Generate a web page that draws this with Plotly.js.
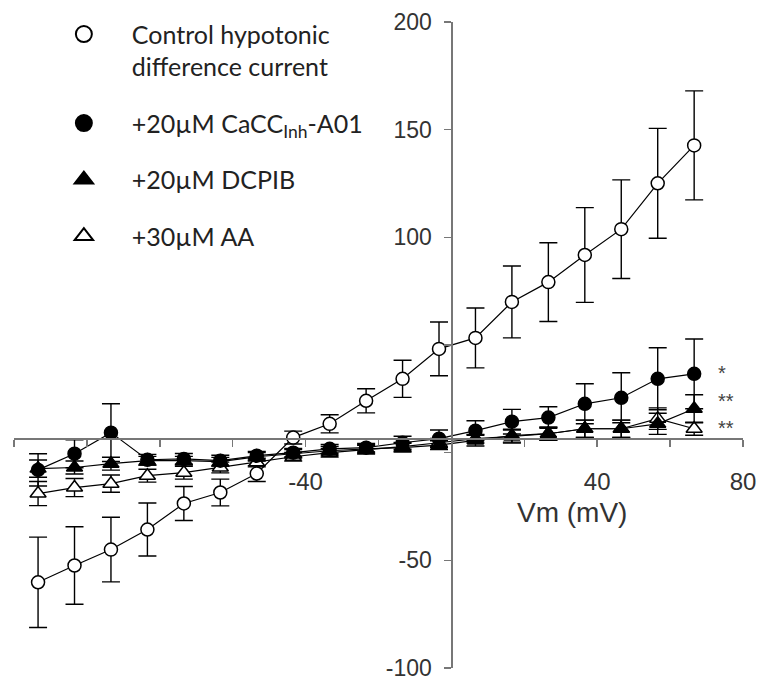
<!DOCTYPE html>
<html>
<head>
<meta charset="utf-8">
<script src="https://cdn.plot.ly/plotly-3.0.1.min.js"></script>
<style>html,body{margin:0;padding:0;background:#fff;}#chart{width:761px;height:687px;}</style>
</head>
<body>
<div id="chart"></div>
<script>
// Membrane potential (mV)
const vm = [-113.4, -103.4, -93.4, -83.4, -73.4, -63.4, -53.4, -43.4, -33.4, -23.4,
            -13.4, -3.4, 6.6, 16.6, 26.6, 36.6, 46.6, 56.6, 66.6];

// Control hypotonic difference current
const controlY   = [-60.2, -52.4, -45.0, -35.7, -23.6, -18.5, -9.7, 7.0, 13.4, 24.1,
                    34.3, 48.2, 53.3, 70.0, 79.2, 91.8, 103.8, 125.1, 142.7];
const controlErr = [21, 18, 15, 12.3, 7.9, 6.2, 3.7, 3, 4.2, 5.6,
                    8.6, 12.5, 13.9, 16.7, 18.3, 22, 22.9, 25.5, 25.3];

// +20µM CaCCinh-A01
const caccY   = [-8.0, -0.5, 9.3, -3.3, -2.9, -3.7, -1.4, 0.0, 1.8, 2.3,
                 4.6, 6.5, 10.2, 14.4, 16.3, 22.7, 25.5, 34.3, 36.6];
const caccErr = [7.5, 6.5, 13.4, 2.5, 2.5, 2.5, 2, 2, 2, 2,
                 3, 4, 4.6, 5.7, 5, 9.3, 11.6, 14.4, 16.2];

// +20µM DCPIB
const dcpibY   = [-7.4, -6.9, -5.1, -3.7, -3.7, -4.2, -1.9, -0.5, 0.9, 1.8,
                  2.3, 3.5, 5.6, 7.9, 8.8, 11.1, 11.1, 13.4, 20.4];
const dcpibErr = [4, 3, 3, 2, 2, 2, 2, 2, 2, 2,
                  2, 2, 2.5, 3, 3, 4, 4, 4.9, 6.5];

// +30µM AA
const aaY   = [-19.0, -16.2, -14.4, -10.7, -9.3, -6.9, -4.6, -1.9, 0.0, 1.4,
               2.8, 4.6, 6.5, 7.5, 8.8, 11.1, 11.1, 15.8, 11.1];
const aaErr = [5.6, 4.2, 4, 3, 3, 2.5, 2, 2, 2, 2,
               2, 2, 2, 3, 3, 4, 4, 5, 3];

const seriesNames = ['Control hypotonic<br>difference current', '+20µM CaCC<sub>Inh</sub>-A01', '+20µM DCPIB', '+30µM AA'];
const xTickVals = [-120, -100, -80, -60, -40, -20, 0, 20, 40, 60, 80];
const xTickText = ['', '', '', '', '-40', '', '', '', '40', '', '80'];
const yTickVals = [-100, -50, 0, 50, 100, 150, 200];
const yTickText = ['-100', '-50', '', '', '100', '150', '200'];
const sigLabels = ['*', '**', '**'];
const sigY = [37, 24, 11.5];

const styles = [
  {symbol: 'circle', color: '#ffffff', size: 13},
  {symbol: 'circle', color: '#000000', size: 13},
  {symbol: 'triangle-up', color: '#000000', size: 14},
  {symbol: 'triangle-up', color: '#ffffff', size: 14}
];
const ys = [controlY, caccY, dcpibY, aaY];
const errs = [controlErr, caccErr, dcpibErr, aaErr];

const traces = [];
// data traces, drawn AA first so control sits on top
[3, 2, 1, 0].forEach(i => {
  traces.push({
    type: 'scatter', mode: 'lines+markers', x: vm, y: ys[i], showlegend: false,
    line: {color: '#000', width: 1.2},
    marker: {symbol: styles[i].symbol, size: styles[i].size, color: styles[i].color,
             line: {color: '#000', width: 1.5}},
    error_y: {type: 'data', array: errs[i], visible: true, color: '#000', thickness: 1.4, width: 9},
    cliponaxis: false
  });
});
// legend entries
[0, 1, 2, 3].forEach(i => {
  traces.push({
    type: 'scatter', mode: 'markers', x: [null], y: [null], name: seriesNames[i],
    legendgroup: 'g' + i, showlegend: true,
    marker: {symbol: styles[i].symbol, size: 16, color: styles[i].color,
             line: {color: '#000', width: 2}}
  });
});

const annotations = sigLabels.map((t, k) => ({
  x: 73.0, y: sigY[k], xref: 'x', yref: 'y', text: t, showarrow: false,
  xanchor: 'left', yanchor: 'middle', borderpad: 0,
  font: {family: 'Liberation Sans, Arial', size: 20, color: '#444'}
}));
annotations.push({
  x: 33, y: -28, xref: 'x', yref: 'y', text: 'Vm (mV)', showarrow: false,
  xanchor: 'center', yanchor: 'middle', font: {family: 'Liberation Sans, Arial', size: 28, color: '#333'}
});

const layout = {
  width: 761, height: 687,
  margin: {l: 14, r: 18, t: 21, b: 19},
  paper_bgcolor: '#fff', plot_bgcolor: '#fff',
  showlegend: true,
  legend: {
    x: 0.030, y: 1.015, xanchor: 'left', yanchor: 'top',
    font: {family: 'Lato, Open Sans, sans-serif', size: 25, color: '#222'},
    itemwidth: 86, tracegroupgap: 21, valign: 'top', bgcolor: 'rgba(0,0,0,0)'
  },
  xaxis: {
    range: [-120, 80], anchor: 'free', position: 0.3553,
    showline: true, linecolor: '#777', linewidth: 1.5,
    ticks: 'outside', ticklen: 7, tickcolor: '#777', tickwidth: 1.5,
    tickvals: xTickVals, ticktext: xTickText,
    ticklabelstandoff: 14,
    tickfont: {family: 'Liberation Sans, Arial', size: 24, color: '#333'},
    showgrid: false, zeroline: false
  },
  yaxis: {
    range: [-100, 200], anchor: 'free', position: 0.6,
    showline: true, linecolor: '#777', linewidth: 1.5,
    ticks: 'outside', ticklen: 7, tickcolor: '#777', tickwidth: 1.5,
    tickvals: yTickVals, ticktext: yTickText,
    ticklabelstandoff: 8,
    tickfont: {family: 'Liberation Sans, Arial', size: 23, color: '#333'},
    showgrid: false, zeroline: false
  },
  annotations: annotations
};

Plotly.newPlot('chart', traces, layout, {displayModeBar: false, staticPlot: true});
</script>
</body>
</html>
